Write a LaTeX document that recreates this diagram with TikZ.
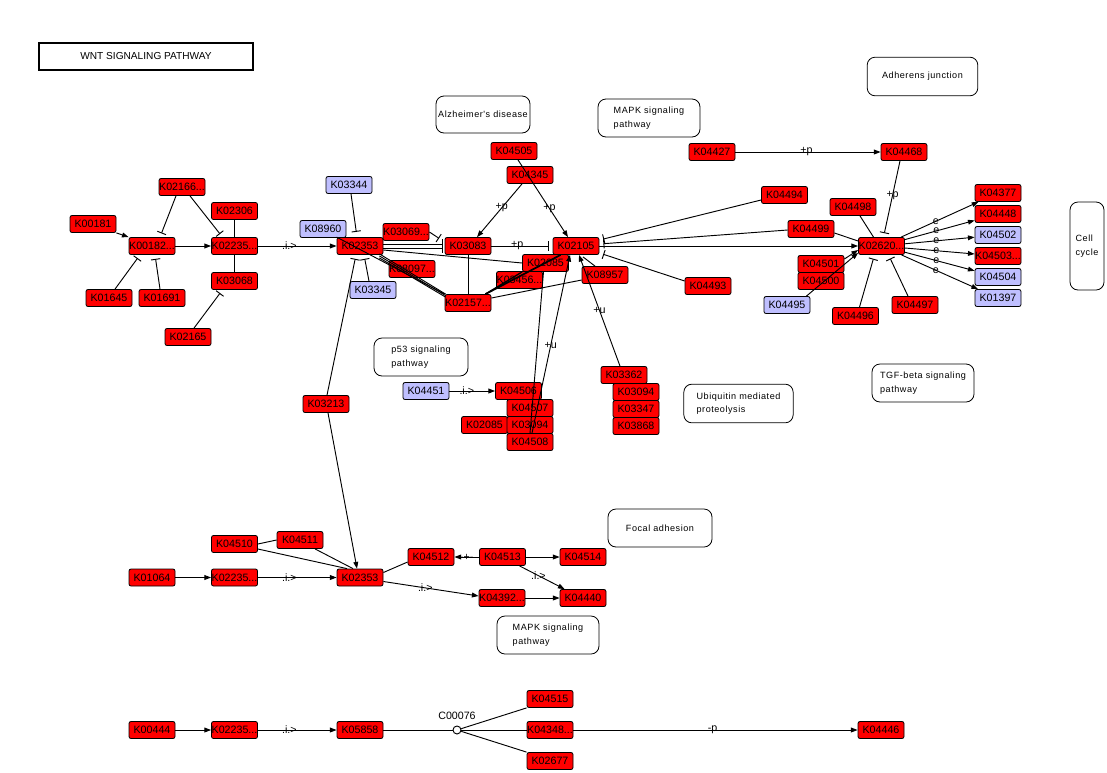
\documentclass[tikz,border=0pt]{standalone}
\usepackage{fontspec}
\setmainfont{Liberation Sans}
\newfontfamily\mapfont[LetterSpace=6]{Liberation Sans}
\usetikzlibrary{arrows.meta,calc}
\definecolor{kred}{RGB}{255,0,0}
\definecolor{kblue}{RGB}{191,191,255}
\begin{document}
\begin{tikzpicture}[x=0.75pt,y=-0.75pt,line width=0.7pt,
 gene/.style={draw=black, line width=0.6pt, fill=kred, rounded corners=1.5pt, minimum width=34.5pt, minimum height=12.75pt, inner sep=0pt, font=\fontsize{8}{8}\selectfont},
 bgene/.style={gene, fill=kblue},
 mapbox/.style={draw=black, line width=0.6pt, rounded corners=6pt, fill=white, font=\mapfont\fontsize{6.8}{10}\selectfont, align=left, inner sep=0pt},
 act/.style={-{Triangle[length=5pt,width=3.6pt]}},
 inh/.style={-{Bar[width=7pt]}, shorten >=3pt},
 lbl/.style={font=\fontsize{8}{8}\selectfont, inner sep=0.5pt}
]
\useasboundingbox (0,0) rectangle (1107,772);
\fill[white] (0,0) rectangle (1107,772);

% title
\node[draw, line width=1.5pt, minimum width=160.5pt, minimum height=20pt, inner sep=0pt, font=\fontsize{7.6}{8}\selectfont] (title) at (146,56.5) {WNT SIGNALING PATHWAY};

% map boxes
\node[mapbox, minimum width=70.5pt, minimum height=27.75pt] (alz) at (483,114.5) {Alzheimer's disease};
\node[mapbox, minimum width=76.5pt, minimum height=28.5pt] (mapk1) at (649,118) {MAPK signaling\\pathway};
\node[mapbox, minimum width=83pt, minimum height=29pt] (adh) at (922.5,76.5) {Adherens junction};
\node[mapbox, minimum width=25.5pt, minimum height=66pt] (cc) at (1087,246) {Cell\\cycle};
\node[mapbox, minimum width=70.5pt, minimum height=28.5pt] (p53) at (421,357) {p53 signaling\\pathway};
\node[mapbox, minimum width=82pt, minimum height=29pt] (ubq) at (738.5,403.5) {Ubiquitin mediated\\proteolysis};
\node[mapbox, minimum width=76.5pt, minimum height=28.5pt] (tgf) at (923,383) {TGF-beta signaling\\pathway};
\node[mapbox, minimum width=78pt, minimum height=28.5pt] (foc) at (660,528) {Focal adhesion};
\node[mapbox, minimum width=76.5pt, minimum height=28.5pt] (mapk2) at (548,635) {MAPK signaling\\pathway};

% genes: upper left
\node[gene] (K00181) at (93,224) {K00181};
\node[gene] (K02166) at (182,187) {K02166...};
\node[gene] (K02306) at (234.5,211) {K02306};
\node[gene] (K00182) at (152,246) {K00182...};
\node[gene] (K02235a) at (234.5,246) {K02235...};
\node[gene] (K03068) at (234.5,281) {K03068};
\node[gene] (K01645) at (109,298) {K01645};
\node[gene] (K01691) at (162,298) {K01691};
\node[gene] (K02165) at (188,337) {K02165};

% middle
\node[bgene] (K03344) at (349,185) {K03344};
\node[bgene] (K08960) at (323,229) {K08960};
\node[gene] (K02353a) at (360,246) {K02353};
\node[gene] (K03069) at (406,232) {K03069...};
\node[gene] (K08097) at (412,269) {K08097...};
\node[bgene] (K03345) at (373,290) {K03345};
\node[gene] (K03083) at (468,246) {K03083};
\node[gene] (K04505) at (514,151) {K04505};
\node[gene] (K04345) at (530,175) {K04345};
\node[gene] (K02105) at (576,246) {K02105};
\node[gene] (K03456) at (519.5,280) {K03456...};
\node[gene] (K02085a) at (545.5,263) {K02085};
\node[gene] (K08957) at (605,275) {K08957};
\node[gene] (K02157) at (468,303) {K02157...};

% right
\node[gene] (K04427) at (712,152) {K04427};
\node[gene] (K04468) at (904,152) {K04468};
\node[gene] (K04494) at (784.5,195) {K04494};
\node[gene] (K04499) at (811,229) {K04499};
\node[gene] (K04493) at (708,286) {K04493};
\node[gene] (K04498) at (853,207) {K04498};
\node[gene] (K02620) at (881.5,246) {K02620...};
\node[gene] (K04501) at (821,264) {K04501};
\node[gene] (K04500) at (821,281) {K04500};
\node[bgene] (K04495) at (787,305) {K04495};
\node[gene] (K04496) at (855.5,316) {K04496};
\node[gene] (K04497) at (915,305) {K04497};
\node[gene] (K04377) at (998,193) {K04377};
\node[gene] (K04448) at (998,214) {K04448};
\node[bgene] (K04502) at (998,235) {K04502};
\node[gene] (K04503) at (998,256) {K04503...};
\node[bgene] (K04504) at (998,277) {K04504};
\node[bgene] (K01397) at (998,298) {K01397};

% lower middle
\node[bgene] (K04451) at (426,391) {K04451};
\node[gene] (K04506) at (518.5,391) {K04506};
\node[gene] (K04507) at (530,408) {K04507};
\node[gene] (K02085b) at (484.5,425) {K02085};
\node[gene] (K03094a) at (530,425) {K03094};
\node[gene] (K04508) at (530,442) {K04508};
\node[gene] (K03362) at (624,375) {K03362};
\node[gene] (K03094b) at (636,392) {K03094};
\node[gene] (K03347) at (636,409) {K03347};
\node[gene] (K03868) at (636,426) {K03868};
\node[gene] (K03213) at (326,404) {K03213};

% lower
\node[gene] (K04510) at (234.5,544) {K04510};
\node[gene] (K04511) at (300,540) {K04511};
\node[gene] (K01064) at (152,577.5) {K01064};
\node[gene] (K02235b) at (234.5,577.5) {K02235...};
\node[gene] (K02353b) at (360,577.5) {K02353};
\node[gene] (K04512) at (431,557) {K04512};
\node[gene] (K04513) at (502.5,557) {K04513};
\node[gene] (K04514) at (583,557) {K04514};
\node[gene] (K04392) at (502,598) {K04392...};
\node[gene] (K04440) at (583,598) {K04440};

% bottom
\node[gene] (K00444) at (152,730) {K00444};
\node[gene] (K02235c) at (234.5,730) {K02235...};
\node[gene] (K05858) at (360,730) {K05858};
\node[circle, draw, fill=white, line width=0.7pt, minimum size=6pt, inner sep=0pt] (C00076) at (457,730) {};
\node[lbl] (C00076lbl) at (457,716) {C00076};
\node[gene] (K04515) at (550,699) {K04515};
\node[gene] (K04348) at (550,730) {K04348...};
\node[gene] (K02677) at (550,761) {K02677};
\node[gene] (K04446) at (881,730) {K04446};

% ---------- edges: upper left
\draw[act] (K00181.south east) -- (K00182.north west);
\draw[act] (K00182) -- (K02235a);
\draw[inh] ($(K02166.south)+(-6,0)$) -- ($(K00182.north)+(8,0)$);
\draw[inh] ($(K02166.south)+(8,0)$) -- ($(K02235a.north)+(-12,0)$);
\draw (K02306) -- (K02235a);
\draw (K03068) -- (K02235a);
\draw[inh] ($(K01645.north)+(6,0)$) -- ($(K00182.south)+(-12,0)$);
\draw[inh] ($(K01691.north)+(-2,0)$) -- ($(K00182.south)+(3,0)$);
\draw[inh] ($(K02165.north)+(6,0)$) -- ($(K03068.south)+(-12,0)$);
\draw[act] (K02235a) -- node[lbl,pos=0.4]{.i.>} (K02353a);

% middle
\draw[inh, shorten >=4pt] ($(K03344.south)+(2,0)$) -- ($(K02353a.north)+(-3,0)$);
\draw[inh] ($(K03213.north)+(1,0)$) -- ($(K02353a.south)+(-4,0)$);
\draw[inh] ($(K03345.north)+(-4,0)$) -- ($(K02353a.south)+(4,0)$);
\draw[inh, shorten >=1.5pt] ($(K02353a.east)+(0,-2)$) -- ($(K03083.west)+(0,-2)$);
\draw[inh, shorten >=1.5pt] ($(K02353a.east)+(0,2)$) -- ($(K03083.west)+(0,2)$);
\draw[inh, shorten >=5pt] (K03069.east) -- ($(K03083.west)+(0,-4)$);
\draw ($(K02353a.east)+(0,4)$) -- (K02085a.west);
\draw (K02353a.north west) -- (K02157.north west);
\draw ($(K02353a.south east)+(-4,-1)$) -- ($(K02157.north west)+(1,0)$);
\draw ($(K02353a.south east)+(-4,1)$) -- ($(K02157.north west)+(1,1.5)$);
\draw ($(K02353a.south east)+(-4,3)$) -- ($(K02157.north west)+(1,3)$);
\draw[act] ($(K04345.south)+(-8,0)$) -- node[lbl,pos=0.45]{+p} ($(K03083.north)+(9,0)$);
\draw[act] ($(K04505.south)+(4,0)$) -- node[lbl,pos=0.63]{+p} ($(K02105.north)+(-8,0)$);
\draw[inh] (K03083) -- node[lbl,pos=0.42]{+p} (K02105);
\draw (K03083) -- (K02157);
\draw[line width=1.3pt] ($(K02157.north east)+(-6,0)$) -- ($(K02105.south west)+(8,0)$);
\draw[line width=1pt] ($(K02157.north east)+(-6,0)$) -- (K02085a.south west);
\draw ($(K02157.east)+(0,-5)$) -- ($(K08957.west)+(0,5)$);
\draw ($(K08957.north)+(-10,0)$) -- ($(K02105.south)+(7,2)$);
\draw[act] ($(K04508.north)+(2,0)$) -- node[lbl,pos=0.49]{+u} ($(K02105.south)+(-6,0)$);
\draw ($(K04508.north)+(0,0)$) -- ($(K02085a.south)+(-2,0)$);
\draw[act] ($(K03362.north)+(-4,0)$) -- node[lbl,pos=0.5]{+u} ($(K02105.south)+(3,0)$);
\draw[inh] ($(K04494.west)+(0,5)$) -- ($(K02105.east)+(0,-6)$);
\draw[inh] ($(K04499.west)+(0,1)$) -- ($(K02105.east)+(0,-2)$);
\draw[inh] ($(K04493.west)+(0,-5)$) -- ($(K02105.east)+(0,7)$);
\draw[act] (K02105) -- (K02620);

% right
\draw ($(K04499.east)+(0,4)$) -- ($(K02620.west)+(0,-5)$);
\draw ($(K04498.south)+(7,0)$) -- ($(K02620.north)+(-8,0)$);
\draw[inh] ($(K04468.south)+(-4,0)$) -- node[lbl,pos=0.45]{+p} ($(K02620.north)+(2,0)$);
\draw[act] (K04427) -- node[lbl,pos=0.49]{+p} (K04468);
\draw[act] ($(K04501.east)+(0,-5)$) -- ($(K02620.west)+(0,4)$);
\draw[act] ($(K04495.north east)+(-4,0)$) -- ($(K02620.south west)+(0,-2)$);
\draw[inh] ($(K04496.north)+(4,0)$) -- ($(K02620.south)+(-7,0)$);
\draw[inh] ($(K04497.north)+(-7,0)$) -- ($(K02620.south)+(7,0)$);
\foreach \t in {K04377,K04448,K04502,K04503,K04504,K01397}
  \draw[act] (K02620) -- node[lbl,pos=0.45]{e} (\t);

% lower middle
\draw[act] (K04451) -- node[lbl,pos=0.38]{.i.>} (K04506);
\draw[act] ($(K03213.south)+(2,0)$) -- ($(K02353b.north)+(-3,0)$);

% lower
\draw (K04510.east) -- (K04511.west);
\draw ($(K04510.east)+(0,5)$) -- ($(K02353b.north)+(-13,0)$);
\draw ($(K04511.south)+(15,0)$) -- ($(K02353b.north)+(-7,0)$);
\draw[act] (K01064) -- (K02235b);
\draw[act] (K02235b) -- node[lbl,pos=0.4]{.i.>} (K02353b);
\draw ($(K02353b.east)+(0,-5)$) -- ($(K04512.west)+(0,5)$);
\draw[act] (K04513) -- node[lbl,pos=0.5]{-+-} (K04512);
\draw[act] (K04513) -- (K04514);
\draw[act] ($(K04513.south)+(17,0)$) -- node[lbl,pos=0.42]{.i.>} ($(K04440.north west)+(5,0)$);
\draw[act] ($(K02353b.east)+(0,4)$) -- node[lbl,pos=0.44]{.i.>} ($(K04392.west)+(0,-2)$);
\draw[act] (K04392) -- (K04440);

% bottom
\draw[act] (K00444) -- (K02235c);
\draw[act] (K02235c) -- node[lbl,pos=0.4]{.i.>} (K05858);
\draw (K05858) -- (C00076);
\draw (C00076) -- (K04515.south west);
\draw (C00076) -- (K04348);
\draw (C00076) -- (K02677.north west);
\draw[act] (K04348) -- node[lbl,pos=0.49]{-p} (K04446);
\end{tikzpicture}
\end{document}
